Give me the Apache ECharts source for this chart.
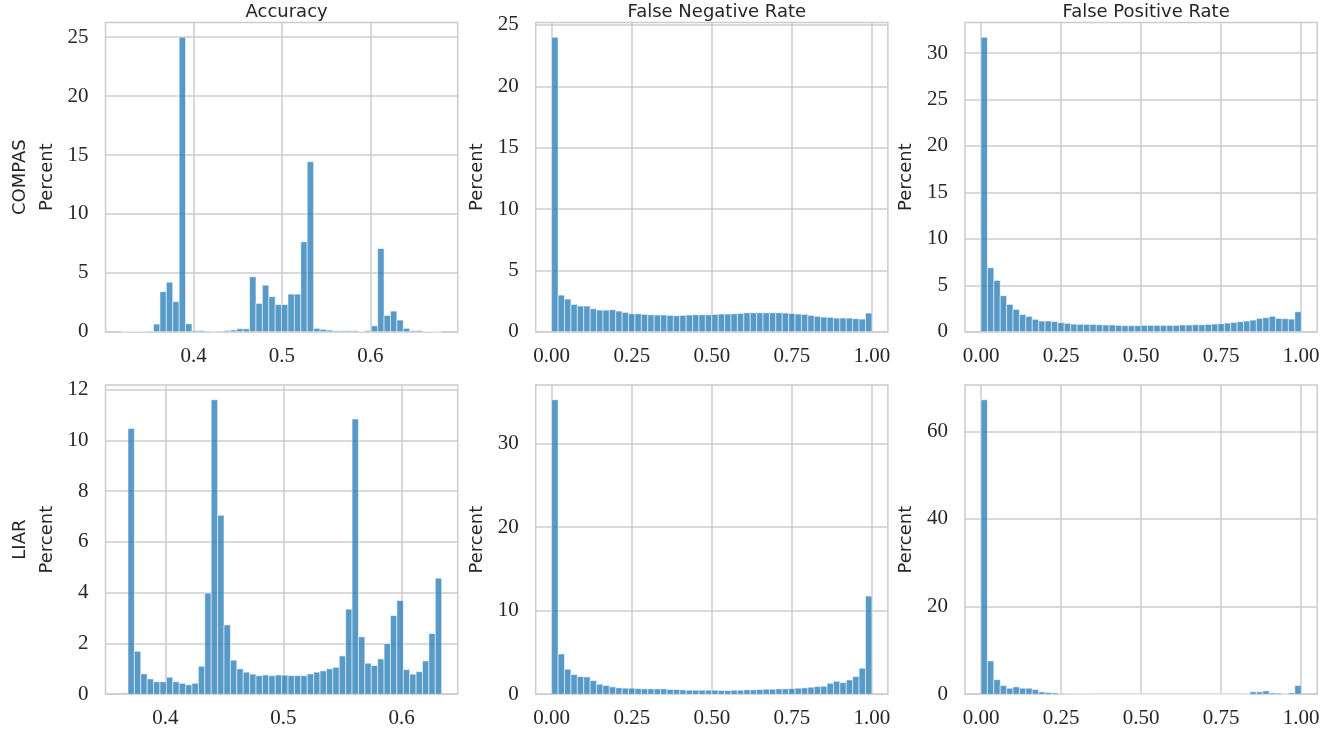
<!DOCTYPE html>
<html>
<head>
<meta charset="utf-8">
<script src="https://cdn.jsdelivr.net/npm/echarts@6/dist/echarts.min.js"></script>
<style>
  html, body { margin: 0; padding: 0; background: #fff; }
  #main { width: 1344px; height: 738px; }
</style>
</head>
<body>
<div id="main"></div>
<script>
// column titles and row names
var colTitles = ['Accuracy', 'False Negative Rate', 'False Positive Rate'];
var rowNames = ['COMPAS', 'LIAR'];

// histogram heights (percent), 50 bins each
var accCompas = [0.02, 0.02, 0.02, 0.02, 0.05, 0.65, 3.4, 4.2, 2.55, 25.0,
    0.68, 0.1, 0.1, 0.05, 0.02, 0.05, 0.1, 0.15, 0.25, 0.25,
    4.66, 2.4, 3.95, 2.97, 2.3, 2.3, 3.19, 3.19, 7.63, 14.43,
    0.28, 0.2, 0.14, 0.08, 0.08, 0.08, 0.08, 0.02, 0.1, 0.5,
    7.06, 1.38, 1.75, 0.99, 0.28, 0.1, 0.1, 0.02, 0, 0];
var fnrCompas = [24.0, 2.98, 2.66, 2.22, 2.09, 2.09, 1.87, 1.76, 1.76, 1.79,
    1.68, 1.57, 1.46, 1.46, 1.41, 1.38, 1.36, 1.36, 1.33, 1.3,
    1.33, 1.36, 1.38, 1.38, 1.38, 1.41, 1.44, 1.44, 1.46, 1.49,
    1.54, 1.54, 1.54, 1.54, 1.54, 1.54, 1.52, 1.49, 1.44, 1.41,
    1.33, 1.25, 1.19, 1.17, 1.11, 1.11, 1.11, 1.06, 1.03, 1.52];
var fprCompas = [31.7, 6.88, 5.52, 3.87, 2.94, 2.4, 1.86, 1.65, 1.33, 1.15,
    1.15, 1.08, 0.97, 0.9, 0.82, 0.79, 0.79, 0.79, 0.75, 0.72,
    0.72, 0.68, 0.65, 0.65, 0.65, 0.68, 0.68, 0.68, 0.68, 0.68,
    0.68, 0.72, 0.72, 0.75, 0.75, 0.79, 0.82, 0.86, 0.93, 1.0,
    1.08, 1.15, 1.25, 1.43, 1.51, 1.65, 1.43, 1.4, 1.36, 2.15];
var accLiar = [0.04, 10.47, 1.69, 0.8, 0.6, 0.49, 0.49, 0.67, 0.49, 0.43,
    0.37, 0.43, 1.1, 3.98, 11.6, 7.05, 2.73, 1.34, 1.0, 0.87,
    0.79, 0.73, 0.76, 0.73, 0.76, 0.75, 0.73, 0.73, 0.73, 0.8,
    0.87, 0.92, 1.0, 1.06, 1.51, 3.35, 10.84, 2.26, 1.22, 1.13,
    1.39, 1.99, 3.1, 3.69, 0.97, 0.79, 0.89, 1.31, 2.39, 4.57];
var fnrLiar = [35.26, 4.82, 2.99, 2.35, 2.11, 2.07, 1.63, 1.2, 1.04, 0.88,
    0.76, 0.72, 0.72, 0.68, 0.64, 0.64, 0.64, 0.64, 0.56, 0.56,
    0.52, 0.48, 0.48, 0.48, 0.48, 0.48, 0.44, 0.44, 0.48, 0.48,
    0.52, 0.52, 0.56, 0.6, 0.6, 0.64, 0.64, 0.68, 0.72, 0.76,
    0.84, 0.92, 0.96, 1.31, 1.55, 1.39, 1.71, 2.11, 3.11, 11.75];
var fprLiar = [67.2, 7.59, 3.34, 1.97, 1.37, 1.67, 1.37, 1.37, 1.06, 0.53,
    0.38, 0.3, 0.15, 0.08, 0.05, 0.03, 0.02, 0.01, 0, 0,
    0, 0, 0, 0, 0, 0, 0, 0, 0, 0,
    0, 0, 0, 0, 0, 0, 0, 0, 0, 0,
    0, 0.02, 0.53, 0.53, 0.76, 0.3, 0.23, 0.05, 0.3, 1.97];

// bin start / bin width
var accCompasBins = [0.3185, 0.007244];
var accLiarBins = [0.3630, 0.005419];
var rateBins = [0, 0.02];

// tick values
var accTicks = [0.4, 0.5, 0.6];
var rateTicks = [0, 0.25, 0.5, 0.75, 1];
var yTicksAccCompas = [0, 5, 10, 15, 20, 25];
var yTicksFnrCompas = [0, 5, 10, 15, 20, 25];
var yTicksFprCompas = [0, 5, 10, 15, 20, 25, 30];
var yTicksAccLiar = [0, 2, 4, 6, 8, 10, 12];
var yTicksFnrLiar = [0, 10, 20, 30];
var yTicksFprLiar = [0, 20, 40, 60];

var panels = [
    {row: 0, col: 0, values: accCompas, bins: accCompasBins, xTicks: accTicks, xMin: 0.3004, xMax: 0.6988, yTicks: yTicksAccCompas, digits: 1},
    {row: 0, col: 1, values: fnrCompas, bins: rateBins, xTicks: rateTicks, xMin: -0.05, xMax: 1.05, yTicks: yTicksFnrCompas, digits: 2},
    {row: 0, col: 2, values: fprCompas, bins: rateBins, xTicks: rateTicks, xMin: -0.05, xMax: 1.05, yTicks: yTicksFprCompas, digits: 2},
    {row: 1, col: 0, values: accLiar, bins: accLiarBins, xTicks: accTicks, xMin: 0.3494, xMax: 0.6475, yTicks: yTicksAccLiar, digits: 1},
    {row: 1, col: 1, values: fnrLiar, bins: rateBins, xTicks: rateTicks, xMin: -0.05, xMax: 1.05, yTicks: yTicksFnrLiar, digits: 2},
    {row: 1, col: 2, values: fprLiar, bins: rateBins, xTicks: rateTicks, xMin: -0.05, xMax: 1.05, yTicks: yTicksFprLiar, digits: 2}
];

var gridLefts = [105.5, 535.7, 965];
var gridTops = [22.5, 385];
var gridW = 352.2, gridH = 309.2;

var textColor = '#262626';
var gridColor = '#cccccc';
var serif = '"Liberation Serif", "DejaVu Serif", serif';
var sans = '"DejaVu Sans", sans-serif';

function makeBins(bins, values) {
    var out = [];
    for (var i = 0; i < values.length; i++) {
        out.push([bins[0] + i * bins[1], bins[0] + (i + 1) * bins[1], values[i]]);
    }
    return out;
}

function renderBar(params, api) {
    var p0 = api.coord([api.value(0), api.value(2)]);
    var p1 = api.coord([api.value(1), 0]);
    return {
        type: 'rect',
        shape: {x: p0[0], y: p0[1], width: p1[0] - p0[0], height: p1[1] - p0[1]},
        style: {fill: 'rgba(31,119,180,0.75)', stroke: 'rgba(255,255,255,0.7)', lineWidth: 0.8}
    };
}

var option = {
    animation: false,
    backgroundColor: '#fff',
    title: [],
    grid: [],
    xAxis: [],
    yAxis: [],
    series: []
};

colTitles.forEach(function (t, c) {
    option.title.push({
        text: t,
        left: gridLefts[c] + gridW / 2,
        top: -2,
        textAlign: 'center',
        textStyle: {fontFamily: sans, fontSize: 18, fontWeight: 'normal', color: textColor}
    });
});

panels.forEach(function (p, i) {
    option.grid.push({
        left: gridLefts[p.col], top: gridTops[p.row], width: gridW, height: gridH,
        show: true, borderColor: gridColor, borderWidth: 1.5, backgroundColor: '#fff'
    });
    option.xAxis.push({
        type: 'value', gridIndex: i, min: p.xMin, max: p.xMax,
        axisLine: {show: false},
        axisTick: {show: false, customValues: p.xTicks},
        axisLabel: {
            customValues: p.xTicks, margin: 14,
            fontFamily: serif, fontSize: 21, color: textColor,
            formatter: (function (d) { return function (v) { return v.toFixed(d); }; })(p.digits)
        },
        splitLine: {show: true, lineStyle: {color: gridColor, width: 1.5}}
    });
    var yMax = 1.05 * Math.max.apply(null, p.values);
    option.yAxis.push({
        type: 'value', gridIndex: i, min: 0, max: yMax,
        name: p.col === 0 ? rowNames[p.row] + '\nPercent' : 'Percent',
        nameLocation: 'middle', nameGap: 45,
        nameTextStyle: {fontFamily: sans, fontSize: 18, color: textColor, lineHeight: 27},
        axisLine: {show: false},
        axisTick: {show: false, customValues: p.yTicks},
        axisLabel: {customValues: p.yTicks, margin: 17, fontFamily: serif, fontSize: 21, color: textColor},
        splitLine: {show: true, lineStyle: {color: gridColor, width: 1.5}}
    });
    option.series.push({
        type: 'custom', xAxisIndex: i, yAxisIndex: i,
        renderItem: renderBar,
        encode: {x: [0, 1], y: 2},
        data: makeBins(p.bins, p.values)
    });
});

var myChart = echarts.init(document.getElementById('main'));
myChart.setOption(option);
</script>
</body>
</html>
